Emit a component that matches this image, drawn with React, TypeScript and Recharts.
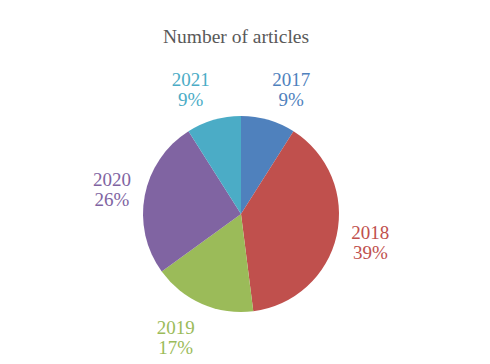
import { PieChart, Pie, Cell } from "recharts"

const years = ["2017", "2018", "2019", "2020", "2021"]
const shares = [9, 39, 17, 26, 9]
const colors = ["#4F81BD", "#C0504D", "#9BBB59", "#8064A2", "#4BACC6"]

const data = years.map((y, i) => ({ name: y, value: shares[i] }))

const RAD = Math.PI / 180
const FONT = "'Liberation Serif', 'Times New Roman', serif"

// excel-ish "best fit": the corner of the label box facing the pie sits just outside it
const renderLabel = (props: any) => {
  const { cx, cy, midAngle, outerRadius, percent, name, index } = props
  const dx = Math.cos(midAngle * RAD)
  const dy = -Math.sin(midAngle * RAD)
  const r = outerRadius + 14 + 5 * Math.max(0, dy)
  const ax = cx + r * dx
  const ay = cy + r * dy
  const x = ax + 19 * Math.sign(dx)
  const y = ay + 18 * dy
  return (
    <text
      x={x}
      y={y - 3.5}
      fill={colors[index]}
      textAnchor="middle"
      fontFamily={FONT}
      fontSize={19}
    >
      <tspan x={x}>{name}</tspan>
      <tspan x={x} dy={20}>{`${Math.round(percent * 100)}%`}</tspan>
    </text>
  )
}

export default function App() {
  return (
    <div style={{ position: "fixed", left: 0, top: 0, width: 490, height: 364, background: "#fff" }}>
      <PieChart width={490} height={364} margin={{ top: 0, right: 0, bottom: 0, left: 0 }}>
        <text x={236} y={43} textAnchor="middle" fill="#595959" fontFamily={FONT} fontSize={19.5}>
          Number of articles
        </text>
        <Pie
          data={data}
          dataKey="value"
          nameKey="name"
          cx={241}
          cy={214}
          outerRadius={98}
          startAngle={90}
          endAngle={-270}
          stroke="none"
          labelLine={false}
          label={renderLabel}
          isAnimationActive={false}
        >
          {data.map((d, i) => (
            <Cell key={d.name} fill={colors[i]} />
          ))}
        </Pie>
      </PieChart>
    </div>
  )
}
